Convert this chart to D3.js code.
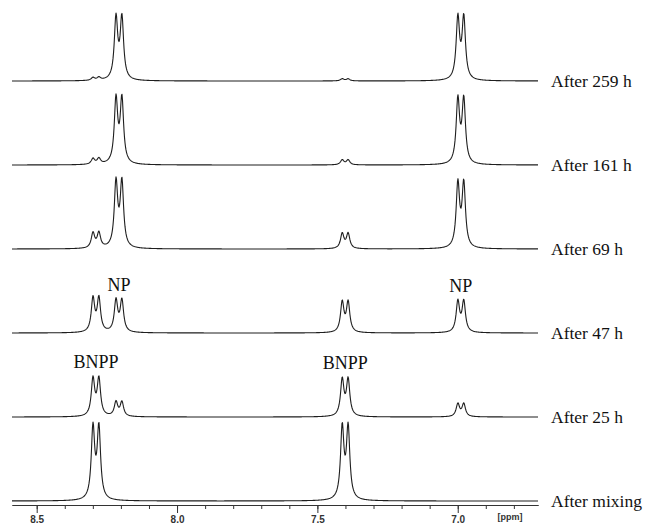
<!DOCTYPE html>
<html>
<head>
<meta charset="utf-8">
<script src="https://cdn.jsdelivr.net/npm/d3@7"></script>
<style>
  body { margin: 0; background: #fff; }
  svg { display: block; }
</style>
</head>
<body>
<svg id="chart" width="646" height="525"></svg>
<script>
// stacked 1H NMR spectra, top to bottom
var traceLabels = ["After 259 h", "After 161 h", "After 69 h", "After 47 h", "After 25 h", "After mixing"];

// doublet centres (ppm) and splitting
var peakNames = ["BNPP", "NP", "BNPP", "NP"];
var peakCenters = [8.289, 8.207, 7.401, 6.989];
var splitting = 0.021;

// peak heights of each doublet, per trace (mixing BNPP = 100)
var bnppLeft  = [4, 8, 21, 47, 52, 100];
var npLeft    = [86, 90, 91, 44, 20, 0];
var bnppRight = [3, 7, 21, 42, 51, 100];
var npRight   = [86, 89, 89, 43, 18, 0];

// which trace gets the assignment label
var labelTrace = [4, 3, 4, 3];

var majorTicks = [8.5, 8.0, 7.5, 7.0];
var minorTicks = [8.5, 8.4, 8.3, 8.2, 8.1, 8.0, 7.9, 7.8, 7.7, 7.6, 7.5, 7.4, 7.3, 7.2, 7.1, 7.0, 6.9, 6.8];

var svg = d3.select("#chart");

var x = d3.scaleLinear().domain([8.588, 6.714]).range([12, 538]);
var y = d3.scaleLinear().domain([0, 100]).range([0, 79]);
var baseY = d3.scaleLinear().domain([0, traceLabels.length - 1]).range([81, 501]);

var hwhm = 0.0072;
var norm = 1 + 1 / (1 + Math.pow(splitting / hwhm, 2));

var heights = traceLabels.map(function(d, i) {
  return [bnppLeft[i], npLeft[i], bnppRight[i], npRight[i]];
});

function intensity(ppm, h) {
  var s = 0;
  peakCenters.forEach(function(c, k) {
    var a = h[k] / norm;
    [c - splitting / 2, c + splitting / 2].forEach(function(p) {
      var u = (ppm - p) / hwhm;
      s += a / (1 + u * u);
    });
  });
  return s;
}

var xs = d3.range(12, 538.01, 0.5);

var line = d3.line()
  .x(function(d) { return d[0]; })
  .y(function(d) { return d[1]; });

traceLabels.forEach(function(lab, i) {
  var b = baseY(i);
  var pts = xs.map(function(px) {
    return [px, b - y(intensity(x.invert(px), heights[i]))];
  });
  svg.append("path")
    .attr("d", line(pts))
    .attr("fill", "none")
    .attr("stroke", "#1e1e1e")
    .attr("stroke-width", 1.1)
    .attr("stroke-linejoin", "round");

  svg.append("text")
    .attr("x", 551)
    .attr("y", b + 5.5)
    .attr("font-family", "'Liberation Serif', 'Times New Roman', serif")
    .attr("font-size", "17.5px")
    .attr("fill", "#111")
    .text(lab);
});

// assignment labels above the peaks
peakNames.forEach(function(name, k) {
  var t = labelTrace[k];
  var top = baseY(t) - y(heights[t][k]);
  svg.append("text")
    .attr("x", x(peakCenters[k]))
    .attr("y", top - 7.5)
    .attr("text-anchor", "middle")
    .attr("font-family", "'Liberation Serif', 'Times New Roman', serif")
    .attr("font-size", "18px")
    .attr("fill", "#111")
    .text(name);
});

// ppm axis
var axisY = 505;
var minorAxis = d3.axisBottom(x).tickValues(minorTicks).tickSize(4).tickSizeOuter(0).tickFormat("");
var majorAxis = d3.axisBottom(x).tickValues(majorTicks).tickSize(8).tickSizeOuter(0).tickFormat(d3.format(".1f"));

var gMinor = svg.append("g").attr("transform", "translate(0," + axisY + ")").call(minorAxis);
var gMajor = svg.append("g").attr("transform", "translate(0," + axisY + ")").call(majorAxis);

svg.selectAll(".domain").attr("stroke", "#333");
svg.selectAll(".tick line").attr("stroke", "#333");
gMajor.selectAll("text")
  .attr("y", 11)
  .attr("font-family", "'Liberation Sans', Arial, sans-serif")
  .attr("font-size", "10px")
  .attr("font-weight", "bold")
  .attr("fill", "#333");

svg.append("text")
  .attr("x", 510)
  .attr("y", 520)
  .attr("text-anchor", "middle")
  .attr("font-family", "'Liberation Sans', Arial, sans-serif")
  .attr("font-size", "9px")
  .attr("font-weight", "bold")
  .attr("fill", "#333")
  .text("[ppm]");
</script>
</body>
</html>
